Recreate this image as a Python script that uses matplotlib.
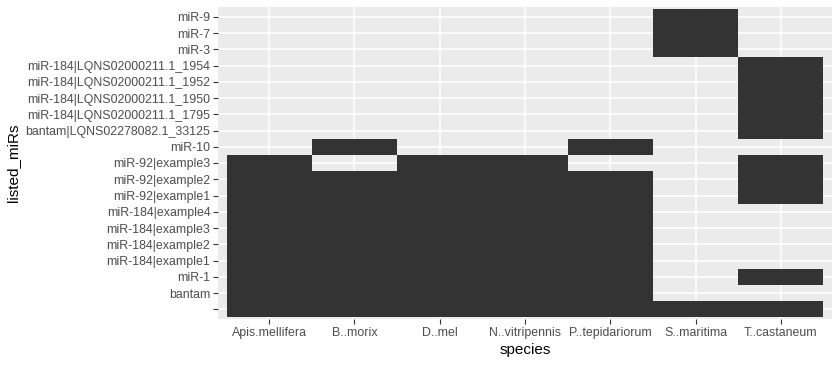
import numpy as np
import matplotlib
matplotlib.use("Agg")
import matplotlib.pyplot as plt
from matplotlib.colors import ListedColormap

plt.rcParams['font.family'] = ['Liberation Sans', 'DejaVu Sans']

# categories
species = ['Apis.mellifera', 'B..morix', 'D..mel', 'N..vitripennis',
           'P..tepidariorum', 'S..maritima', 'T..castaneum']

mirs = ['', 'bantam', 'miR-1',
        'miR-184|example1', 'miR-184|example2', 'miR-184|example3', 'miR-184|example4',
        'miR-92|example1', 'miR-92|example2', 'miR-92|example3',
        'miR-10', 'bantam|LQNS02278082.1_33125',
        'miR-184|LQNS02000211.1_1795', 'miR-184|LQNS02000211.1_1950',
        'miR-184|LQNS02000211.1_1952', 'miR-184|LQNS02000211.1_1954',
        'miR-3', 'miR-7', 'miR-9']

# which miRs are listed for each species
common = ['', 'bantam', 'miR-1', 'miR-184|example1', 'miR-184|example2',
          'miR-184|example3', 'miR-184|example4', 'miR-92|example1', 'miR-92|example2']
present = {
    'Apis.mellifera': common + ['miR-92|example3'],
    'B..morix': common + ['miR-10'],
    'D..mel': common + ['miR-92|example3'],
    'N..vitripennis': common + ['miR-92|example3'],
    'P..tepidariorum': common + ['miR-10'],
    'S..maritima': ['', 'miR-3', 'miR-7', 'miR-9'],
    'T..castaneum': ['', 'miR-1', 'miR-92|example1', 'miR-92|example2', 'miR-92|example3',
                     'bantam|LQNS02278082.1_33125', 'miR-184|LQNS02000211.1_1795',
                     'miR-184|LQNS02000211.1_1950', 'miR-184|LQNS02000211.1_1952',
                     'miR-184|LQNS02000211.1_1954'],
}

mat = np.zeros((len(mirs), len(species)))
for j, sp in enumerate(species):
    for m in present[sp]:
        mat[mirs.index(m), j] = 1
mat = np.ma.masked_equal(mat, 0)

fig = plt.figure(figsize=(8.4, 3.65), dpi=100)
ax = fig.add_axes([218 / 840, 46 / 365, 614 / 840, 312 / 365])
ax.set_facecolor('#EBEBEB')

xe = np.arange(len(species) + 1) - 0.5
ye = np.arange(len(mirs) + 1) - 0.5
ax.pcolormesh(xe, ye, mat, cmap=ListedColormap(['#333333']), vmin=0, vmax=1,
              edgecolor='face', linewidth=0, antialiased=False, zorder=2)

ax.set_xlim(-0.6, len(species) - 0.4)
ax.set_ylim(-0.6, len(mirs) - 0.4)
ax.set_xticks(range(len(species)))
ax.set_xticklabels(species)
ax.set_yticks(range(len(mirs)))
ax.set_yticklabels(mirs)
ax.grid(True, color='white', linewidth=1.1, zorder=1)
ax.set_axisbelow(True)
for s in ax.spines.values():
    s.set_visible(False)
ax.tick_params(length=3.5, width=0.8, color='#333333', labelcolor='#4D4D4D',
               labelsize=8.9, pad=2)
ax.set_xlabel('species', fontsize=11, color='black', labelpad=3)
ax.set_ylabel('listed_miRs', fontsize=11, color='black', labelpad=4)

fig.savefig('out.png', dpi=100)
